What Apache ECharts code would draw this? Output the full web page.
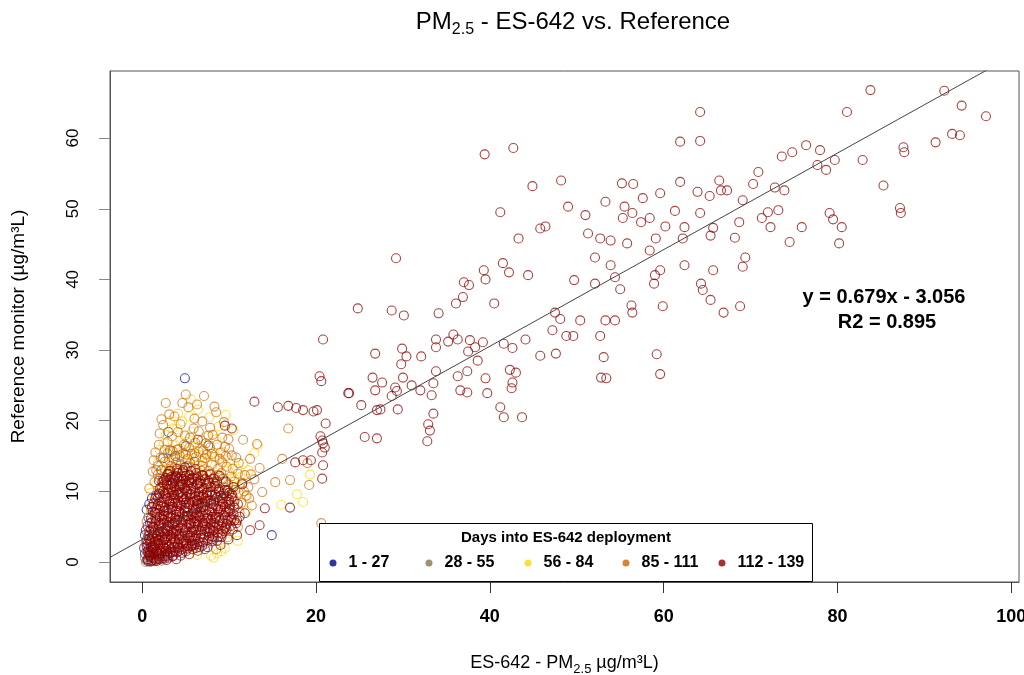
<!DOCTYPE html>
<html><head><meta charset="utf-8">
<script src="https://cdn.jsdelivr.net/npm/echarts@6/dist/echarts.min.js"></script>
<style>html,body{margin:0;padding:0;background:#fff}#c{width:1024px;height:675px}</style>
</head><body><div id="c"></div>
<script>
// ---- data ----
const groupNames = ['1 - 27', '28 - 55', '56 - 84', '85 - 111', '112 - 139'];
const xTicks = [0, 20, 40, 60, 80, 100];
const yTicks = [0, 10, 20, 30, 40, 50, 60];
const fitSlope = 0.6835;     // drawn line as measured
const fitIntercept = 3.2;
const eqText = 'y = 0.679x - 3.056';
const r2Text = 'R2 = 0.895';

const days1_27 = [[4.9,26.0],[14.9,3.8],[21.6,4.6],[3.0,18.4],[3.2,15.8],[6.4,17.3],[2.4,14.7],[0.9,5.5],[0.5,3.1],[5.8,2.4],[6.6,2.1],[4.3,1.6],[0.3,1.2],[0.6,0.3],[1.0,0.1],[1.4,7.0],[0.8,8.2],[1.9,11.5],[2.2,13.0],[3.8,15.0],[5.0,16.4],[0.4,4.5],[0.7,6.3],[2.6,0.5],[3.5,0.9],[7.2,1.8],[8.0,3.2],[9.3,11.8],[6.0,14.2],[4.4,13.7],[1.6,9.4],[1.2,2.3],[2.0,0.4],[7.6,16.5],[3.4,12.1],[0.2,2.0],[0.5,7.4],[1.1,9.0],[0.3,3.8]];

const days28_55 = [[0.5,0.2],[0.8,0.7],[1.2,0.3],[0.3,0.6],[1.7,0.8],[2.2,0.2],[0.6,1.5],[1.0,2.5],[2.9,1.4],[3.6,2.2],[1.5,4.0],[2.5,5.5],[4.2,3.8],[5.5,5.2],[3.3,7.8],[6.8,6.0],[2.0,9.1],[7.4,9.9],[4.8,10.5],[9.5,10.5],[8.4,8.9],[5.2,13.6],[3.0,12.8],[1.1,1.0],[0.4,0.0],[1.8,1.8],[1.4,0.1],[0.9,0.0],[2.6,1.1]];

const days56_84 = [[3.2,19.9],[4.6,19.9],[6.4,21.6],[7.7,20.5],[9.6,20.8],[12.9,15.4],[18.5,8.5],[8.6,1.2],[5.7,18.4],[7.4,17.8],[4.0,18.8],[19.3,12.4],[2.5,16.8],[3.0,15.2],[3.8,16.5],[4.4,17.2],[5.2,15.6],[6.0,16.3],[6.8,15.0],[7.5,14.2],[8.2,15.5],[9.0,13.7],[9.8,12.9],[10.6,11.8],[11.2,10.6],[11.8,9.2],[2.2,12.5],[2.8,13.8],[3.6,12.9],[4.9,14.3],[5.8,13.0],[6.6,12.6],[7.2,11.2],[8.8,10.8],[1.6,11.0],[1.3,8.6],[0.9,6.8],[2.4,10.4],[10.2,9.6],[9.5,2.0],[7.9,0.9],[6.3,1.0],[13.3,16.5],[16.0,8.1],[17.8,9.6],[12.0,7.2],[4.1,21.0],[5.4,20.6],[8.8,19.2],[10.5,18.7],[11.6,13.9],[0.6,4.0],[1.0,9.8],[3.1,10.0],[5.0,11.9],[7.0,9.2],[8.6,6.4],[10.0,4.0],[11.0,3.0],[5.6,23.0],
[2.0,15.9],[2.7,18.0],[3.5,18.9],[4.3,14.6],[5.1,17.0],[5.9,14.7],[6.7,16.4],[7.9,14.8],[8.5,17.4],[9.3,15.6],[10.1,14.4],[10.9,13.2],[1.8,14.0],[2.5,13.2],[3.3,16.0],[4.7,12.9],[6.3,13.8],[7.1,13.1],[8.0,12.5],[9.4,11.9],[10.4,10.9],[11.3,12.0],[12.2,13.0],[9.1,1.5],[8.2,0.6]];

const days85_111 = [[2.7,22.5],[5.0,23.7],[7.1,23.5],[5.3,21.9],[16.8,18.9],[13.2,16.7],[19.2,10.9],[20.6,5.5],[12.0,9.4],[12.6,8.0],[4.6,22.5],[6.0,20.3],[7.8,19.0],[8.5,21.2],[9.2,17.6],[10.0,16.0],[3.7,20.6],[2.0,18.2],[1.5,15.5],[2.9,17.0],[4.2,16.0],[5.5,17.6],[6.5,18.5],[7.3,16.8],[8.0,13.8],[8.9,14.6],[9.6,15.0],[10.4,13.2],[11.0,12.5],[11.5,11.2],[12.2,10.6],[10.8,14.8],[1.2,12.8],[1.8,13.6],[2.6,14.2],[3.3,13.6],[4.0,12.6],[4.7,15.4],[5.5,14.0],[6.2,14.9],[6.9,13.6],[7.6,12.9],[8.3,12.0],[9.1,12.6],[9.9,11.0],[10.7,10.2],[11.4,8.4],[0.8,10.4],[1.4,11.3],[2.0,11.8],[2.8,11.0],[3.6,10.2],[4.5,11.0],[5.3,10.8],[6.0,11.4],[6.7,10.6],[7.4,10.8],[8.2,11.3],[9.0,9.9],[9.7,8.6],[10.5,8.0],[11.2,7.0],[1.0,7.6],[1.7,7.4],[2.5,8.4],[3.4,8.8],[4.2,9.8],[5.0,9.3],[5.9,9.0],[6.8,8.2],[7.7,8.8],[8.7,8.6],[9.4,7.2],[10.3,6.2],[11.0,5.0],[0.5,5.8],[1.5,5.4],[2.7,6.2],[3.9,5.6],[5.2,6.3],[6.4,5.0],[7.6,5.6],[8.9,4.6],[9.8,3.5],[0.4,2.7],[1.3,3.4],[2.4,2.4],[3.6,3.6],[4.8,2.2],[6.1,3.0],[7.3,2.6],[8.5,1.8],[13.5,13.3],[12.5,12.4],[15.3,11.3],[17.0,11.6],[19.0,14.0],[16.1,14.6],[11.6,17.3],[13.8,9.9],[9.4,19.8],
[2.1,14.8],[2.6,15.9],[3.1,14.4],[3.5,15.7],[3.9,14.1],[4.3,15.1],[4.8,16.6],[5.2,14.6],[5.7,15.3],[6.1,16.9],[6.5,15.6],[6.9,14.3],[7.4,15.2],[7.8,16.2],[8.3,14.9],[8.7,13.2],[9.2,14.1],[9.7,13.5],[10.2,12.1],[10.6,11.4],[11.1,9.8],[11.7,10.0],[12.3,9.0],[1.6,13.0],[3.4,17.8],[4.1,18.4],[4.9,17.9],[5.9,18.9],[6.8,17.2],[7.6,17.9],[8.6,16.6],[9.5,16.3],[10.3,15.1],[11.1,14.0],[11.8,12.3],[2.4,19.4],[3.1,20.9],[4.4,19.5],[6.9,19.9],[8.1,18.0],[9.9,17.4],[12.4,14.6],[12.9,11.7],[1.3,14.4],[1.9,16.6],[2.2,20.2],[6.3,22.3],[8.3,22.0],
[1.8,12.4],[2.4,12.0],[3.1,12.9],[3.7,13.3],[4.3,13.0],[4.9,12.5],[5.6,13.4],[6.2,12.2],[6.8,12.9],[7.4,12.4],[8.0,11.7],[8.7,12.3],[9.3,11.3],[9.9,10.2],[10.4,9.3],[2.9,15.4],[4.0,15.9],[5.0,15.2],[6.0,15.4],[7.0,15.8],[8.0,15.3],[9.0,15.5],[3.6,14.7],[5.4,16.2],[7.2,14.7]];

const days112_139 = [
[0.6,0.4],[0.8,1.2],[1.0,0.6],[1.2,2.0],[0.9,2.8],[1.3,1.1],[1.1,3.5],[1.4,4.2],[0.7,1.8],[1.5,0.3],[1.2,5.0],[1.0,4.6],
[1.6,1.5],[1.8,2.6],[2.0,0.9],[2.1,3.8],[1.9,5.2],[2.3,6.1],[1.7,6.8],[2.4,2.2],[2.2,4.7],[2.0,7.5],[2.5,3.1],[1.8,8.2],[2.3,9.0],[2.1,1.6],[2.4,5.6],[1.6,3.3],[2.6,0.8],
[2.7,1.9],[2.9,3.6],[3.0,5.0],[3.2,6.4],[2.8,7.3],[3.1,8.6],[3.4,2.7],[3.3,4.4],[2.6,9.7],[3.0,10.8],[3.5,7.8],[3.2,1.3],[2.8,5.8],[3.4,9.4],[3.1,11.6],[3.5,5.3],[2.9,12.4],
[3.7,2.1],[3.9,3.9],[4.0,6.0],[4.2,7.2],[3.8,8.4],[4.1,9.6],[4.4,4.8],[4.3,10.7],[3.6,11.9],[4.0,1.4],[4.5,8.0],[4.2,3.2],[3.9,6.7],[4.4,11.4],[4.1,12.6],[3.7,5.5],
[4.7,2.6],[4.9,4.2],[5.0,5.9],[5.2,7.0],[4.8,8.9],[5.1,10.1],[5.4,3.4],[5.3,6.5],[4.6,11.0],[5.0,12.2],[5.5,9.1],[5.2,1.9],[4.9,7.7],[5.4,11.6],[5.1,4.9],[4.7,13.0],
[5.7,3.0],[5.9,4.6],[6.0,6.2],[6.2,7.6],[5.8,8.5],[6.1,9.8],[6.4,5.3],[6.3,10.9],[5.6,11.8],[6.0,2.4],[6.5,8.3],[6.2,3.8],[5.9,7.0],[6.4,12.0],
[6.7,3.4],[6.9,5.0],[7.0,6.6],[7.2,8.0],[6.8,9.2],[7.1,10.4],[7.4,4.3],[7.3,7.3],[6.6,11.2],[7.0,2.8],[7.5,9.4],[7.2,5.8],[6.9,12.3],
[7.7,3.6],[7.9,5.4],[8.0,7.0],[8.2,8.6],[7.8,9.9],[8.1,4.4],[8.4,6.1],[8.3,10.8],[7.6,11.5],[8.0,2.9],[8.5,7.9],[8.2,5.0],
[8.7,4.1],[8.9,5.9],[9.0,7.4],[9.2,9.0],[8.8,10.3],[9.1,3.5],[9.4,6.6],[9.3,8.2],[8.6,11.4],[9.5,4.8],
[9.7,5.4],[9.9,7.1],[10.0,8.8],[10.2,6.0],[9.8,10.1],[10.4,4.6],[10.6,7.7],[10.3,9.6],[10.8,5.5],
[0.9,0.9],[1.1,1.7],[1.4,2.9],[1.3,0.5],[1.7,0.4],[1.9,1.1],[2.2,2.8],[2.0,4.2],[1.8,3.9],[2.6,4.0],[2.7,2.8],[2.5,6.6],[2.4,7.9],[2.9,1.2],[3.3,3.3],[3.0,6.9],[3.6,4.0],[3.8,2.9],[3.5,9.9],[3.3,12.0],[4.0,4.4],[4.3,5.9],[4.6,6.8],[4.1,8.2],[4.6,9.6],[4.8,3.1],[5.1,2.6],[5.3,8.2],[5.6,6.0],[5.7,9.6],[5.5,4.2],[5.8,1.8],[6.1,5.5],[6.3,6.9],[6.6,4.5],[6.5,9.9],[6.8,7.7],[7.1,3.5],[7.3,9.0],[7.6,6.2],[7.7,4.8],[7.9,8.3],[8.1,6.4],[8.3,3.5],[8.6,9.2],[8.8,7.0],[9.1,5.0],[9.5,7.8],[9.7,9.3],[10.1,7.3],[2.2,10.6],[2.8,10.9],[3.7,10.6],[4.5,12.1],[5.6,12.9],[1.5,6.2],[1.2,7.1],[0.8,3.3],[0.5,2.2],[1.9,9.7],[2.5,11.6],[3.2,12.9],[4.0,13.2],[4.9,13.4],[6.1,13.2],[7.8,12.4],[8.9,12.2],[9.6,11.4],[10.5,10.6],[11.0,8.2],[11.2,6.4],[10.9,3.8],[9.9,3.2],[9.0,2.4],[7.5,2.1],[6.4,1.6],[5.4,1.1],[4.4,0.9],[3.5,0.8],[2.8,0.3],
[0.7,0.1],[1.1,0.2],[1.6,0.1],[2.3,0.5],[3.0,0.6],[3.8,1.6],[4.5,1.8],[0.8,0.9],[1.4,1.3],[2.0,1.9],[2.7,1.5],[3.3,1.8],[4.2,2.0],[5.0,1.5],[5.6,2.2],[6.2,2.0],[0.6,1.4],[1.9,0.5],
[0.6,2.6],[1.0,3.0],[1.5,2.4],[1.9,3.1],[2.3,3.5],[2.8,2.4],[3.2,3.8],[3.7,3.2],[4.1,2.5],[4.6,3.6],[5.0,2.9],[5.5,3.7],[6.0,3.3],[6.5,2.9],[7.0,3.9],[7.5,3.1],[8.1,3.6],[8.6,3.0],[5.3,2.2],[2.6,3.3],
[0.8,4.4],[1.3,4.9],[1.8,4.5],[2.2,5.3],[2.7,4.7],[3.1,5.6],[3.6,4.6],[4.1,5.2],[4.5,5.7],[5.0,4.5],[5.4,5.5],[5.9,5.0],[6.3,5.8],[6.8,4.4],[7.2,5.2],[7.8,4.6],[8.3,5.5],[8.8,5.1],[9.3,4.4],[9.8,5.9],[10.2,5.1],[3.5,4.2],
[1.0,6.2],[1.5,6.9],[2.0,6.4],[2.5,7.2],[2.9,6.5],[3.4,7.4],[3.8,6.3],[4.3,7.0],[4.8,6.4],[5.2,7.7],[5.7,6.8],[6.1,7.4],[6.6,6.3],[7.0,7.8],[7.5,6.7],[8.0,7.6],[8.5,6.4],[9.0,7.9],[9.5,6.3],[10.0,7.5],[10.5,6.8],[4.0,7.9],[6.4,7.9],
[1.3,8.3],[1.8,9.1],[2.2,8.5],[2.7,9.3],[3.2,8.2],[3.6,9.0],[4.1,8.7],[4.6,9.2],[5.0,8.4],[5.5,9.6],[6.0,8.6],[6.5,9.3],[6.9,8.4],[7.4,9.8],[7.9,8.7],[8.4,9.5],[8.9,8.6],[9.4,9.7],[9.9,8.5],[10.3,9.1],[3.0,9.8],[5.2,9.9],
[2.0,10.4],[2.5,11.0],[3.0,10.3],[3.5,11.2],[3.9,10.1],[4.4,10.9],[4.9,10.4],[5.4,11.3],[5.9,10.5],[6.4,11.1],[6.9,10.2],[7.4,11.0],[7.9,10.6],[8.4,11.1],[8.8,10.0],[2.7,11.9],[4.2,11.8],[5.8,11.9],
[3.0,12.5],[3.8,12.2],[4.6,12.7],[5.4,12.3],[6.2,12.6],[7.0,12.2],
[0.9,1.5],[1.3,1.8],[1.7,1.2],[2.2,1.3],[2.5,2.0],[3.1,2.2],[3.5,1.4],[4.0,2.2],[4.6,1.3],[5.1,2.3],[5.7,2.6],[6.3,2.5],[6.9,2.3],[1.0,2.1],[2.9,0.9],[3.9,0.4],
[0.7,3.7],[1.2,3.9],[1.7,3.6],[2.1,2.5],[2.4,4.3],[2.9,4.4],[3.4,3.6],[3.9,4.5],[4.3,3.9],[4.7,4.5],[5.2,3.8],[5.7,4.3],[6.2,4.5],[6.7,3.9],[7.2,4.6],[7.7,4.1],[8.2,4.5],[8.7,3.5],[9.2,4.0],[9.7,4.6],[5.9,3.5],[4.5,2.8],
[0.6,5.1],[1.1,5.6],[1.6,5.9],[2.0,5.5],[2.5,6.0],[2.9,5.2],[3.3,6.2],[3.8,5.8],[4.2,6.4],[4.6,5.2],[5.1,6.5],[5.6,5.4],[6.0,5.7],[6.5,6.5],[7.0,5.5],[7.4,6.2],[7.9,6.0],[8.4,5.0],[8.8,6.4],[9.2,5.6],[9.6,5.0],[10.1,6.4],[10.6,5.9],
[1.1,7.8],[1.6,7.6],[2.1,8.0],[2.6,7.7],[3.0,7.5],[3.5,8.4],[3.9,7.3],[4.4,8.1],[4.9,7.2],[5.4,8.5],[5.8,7.6],[6.3,8.2],[6.7,7.1],[7.2,8.6],[7.7,7.3],[8.2,8.1],[8.7,7.5],[9.2,8.5],[9.6,7.0],[10.1,8.1],[10.6,8.6],[6.2,6.6],[8.3,6.8],
[1.5,9.0],[2.0,9.6],[2.4,10.0],[2.9,9.0],[3.3,10.3],[3.7,9.5],[4.2,10.3],[4.7,8.6],[5.1,9.2],[5.6,10.3],[6.1,9.2],[6.6,10.4],[7.0,9.5],[7.5,8.6],[8.0,9.5],[8.5,10.4],[9.0,9.4],[9.5,10.2],[10.0,9.8],[4.4,9.9],[6.3,8.8],
[2.3,11.3],[2.8,11.5],[3.3,11.0],[3.8,11.6],[4.2,11.0],[4.7,11.7],[5.2,10.9],[5.7,11.2],[6.2,11.8],[6.7,11.5],[7.2,11.7],[7.7,11.2],[8.2,11.8],[4.0,12.0],[5.0,11.5],
[12.9,22.7],[9.5,19.3],[10.3,18.9],[20.4,26.3],[23.7,23.9],[20.7,17.2],[20.8,13.7],[20.7,11.8],[17.0,7.7],[11.8,6.9],[10.9,5.9],[13.5,5.2],[12.4,4.5],[14.1,7.6],[11.5,11.0],
[64.2,63.7],[83.8,66.8],[92.3,66.7],[81.1,63.7],[94.3,64.6],[97.1,63.1],[61.9,59.5],[42.7,58.6],[39.4,57.7],[64.2,59.6],[76.4,59.0],[74.8,58.0],[78.0,58.3],[91.3,59.4],[93.2,60.6],[94.1,60.4],[87.6,58.7],[87.7,58.0],[73.6,57.4],[77.7,56.2],[79.7,56.9],[82.9,56.9],[78.7,55.5],[48.2,54.0],[44.9,53.2],[85.3,53.3],[70.9,55.2],[70.3,53.5],[61.9,53.8],[66.4,54.0],[66.6,52.6],[72.8,53.0],[67.3,52.6],[73.9,52.6],[56.5,53.5],[55.2,53.6],[59.6,52.2],[63.9,52.4],[69.1,51.2],[65.3,51.8],[41.2,49.5],[53.3,51.0],[55.5,50.3],[57.6,51.5],[56.4,49.4],[49.0,50.3],[51.0,49.1],[55.3,48.7],[58.4,48.7],[61.3,49.7],[64.2,49.4],[72.0,49.5],[73.2,49.8],[71.3,48.7],[79.1,49.4],[79.5,48.5],[87.2,50.1],[87.3,49.4],[80.5,47.4],[75.9,47.4],[72.3,47.4],[68.7,48.1],[65.7,47.3],[62.4,47.4],[60.2,47.5],[57.4,48.1],[51.3,46.5],[52.7,45.8],[62.2,45.8],[65.4,46.2],[68.2,45.9],[59.1,45.8],[55.8,45.1],[58.4,44.1],[53.9,45.5],[46.4,47.5],[45.8,47.2],[43.3,45.8],[80.2,45.1],[74.5,45.3],[69.4,43.1],[52.1,43.1],[53.9,42.0],[62.4,42.0],[59.6,41.3],[65.7,41.3],[69.1,41.8],[54.4,40.3],[41.5,42.3],[39.3,41.3],[39.5,40.0],[42.2,41.0],[44.4,40.6],[29.2,43.0],[49.7,39.9],[52.1,39.4],[59.0,40.6],[58.9,39.4],[64.3,39.4],[64.5,38.5],[65.4,37.1],[68.8,36.2],[66.9,35.3],[55.0,38.6],[56.4,35.3],[56.3,36.3],[59.9,36.2],[37.6,39.2],[36.9,37.5],[40.5,36.6],[37.0,39.6],[36.1,36.6],[28.7,35.6],[30.1,34.9],[24.8,35.9],[34.1,35.2],[47.5,35.3],[48.1,34.4],[48.8,32.0],[49.6,32.0],[47.2,32.8],[53.3,34.2],[54.4,34.2],[52.7,32.0],[50.4,34.2],[42.6,30.3],[44.1,31.5],[41.6,30.9],[39.2,31.1],[38.3,30.4],[37.5,29.8],[37.7,31.4],[35.8,32.2],[36.3,31.5],[35.2,31.2],[33.8,31.5],[33.8,30.4],[32.1,29.1],[30.4,29.1],[29.8,28.0],[30.0,26.1],[26.5,26.1],[27.6,25.4],[29.1,24.7],[29.3,24.2],[31.0,25.0],[32.0,24.3],[33.8,27.0],[33.5,25.3],[33.3,23.6],[37.4,27.0],[36.3,26.3],[38.6,28.5],[36.6,24.3],[37.4,24.0],[39.5,26.0],[42.3,27.2],[42.6,25.4],[43.0,26.8],[42.5,24.6],[39.7,23.9],[41.2,21.9],[41.6,20.5],[43.7,20.5],[45.8,29.2],[47.6,29.5],[53.1,29.0],[53.4,26.0],[52.8,26.1],[59.6,26.6],[59.2,29.4],[29.9,30.2],[26.8,29.5],[26.8,24.3],[27.4,21.6],[27.0,21.5],[25.2,22.2],[25.6,17.7],[27.0,17.5],[29.4,21.6],[32.9,19.5],[33.1,18.6],[32.8,17.1],[28.7,23.5],[23.8,23.9],[20.6,25.6],[20.8,31.5],[21.1,19.6],[20.5,17.8],[20.8,16.8],[20.7,15.5],[21.0,16.2],[20.1,21.5],[19.7,21.3],[18.5,21.5],[16.8,22.1],[17.7,21.8],[15.6,21.9],[18.5,14.4],[19.4,14.4],[17.6,14.1],[33.5,21.0]
];

// ---- chart ----
const colors = ['#00008B', '#8B7355', '#FFD700', '#CD6600', '#8B0000'];
const groups = [days1_27, days28_55, days56_84, days85_111, days112_139];
const xMin = -3.72, xMax = 100.9, yMin = -2.83, yMax = 69.5;
const FONT = 'Liberation Sans, Arial, sans-serif';

function rgba(hex, a) {
  const n = parseInt(hex.slice(1), 16);
  return 'rgba(' + (n >> 16) + ',' + ((n >> 8) & 255) + ',' + (n & 255) + ',' + a + ')';
}

const scatterSeries = groups.map((g, i) => ({
  type: 'scatter', name: groupNames[i], data: g,
  symbol: 'circle', symbolSize: 9, large: false,
  itemStyle: { color: 'rgba(0,0,0,0)', borderColor: rgba(colors[i], i === 4 ? 0.92 : 0.85), borderWidth: 1.1 },
  emphasis: { disabled: true }, z: 2
}));

const fitLine = {
  type: 'line', name: 'fit', data: [[xMin, fitIntercept + fitSlope * xMin], [xMax, fitIntercept + fitSlope * xMax]],
  symbol: 'none', lineStyle: { color: '#444', width: 1 }, clip: true, z: 3, silent: true
};

const dotX = [333, 429, 528, 626, 722];
const legends = groupNames.map((n, i) => ({
  data: [{ name: n, icon: 'circle', itemStyle: { color: colors[i], borderWidth: 0 } }],
  left: dotX[i] - 3.5, top: 555, padding: 0, z: 6,
  itemWidth: 7, itemHeight: 7, selectedMode: false,
  textStyle: { fontFamily: FONT, fontSize: 16, fontWeight: 'bold', color: '#000', lineHeight: 16, padding: [0, 0, 0, 7] }
}));

const axisLineStyle = { color: '#555', width: 1 };

const chart = echarts.init(document.getElementById('c'), null, { renderer: 'canvas' });
chart.setOption({
  animation: false,
  backgroundColor: '#fff',
  title: {
    text: '{a|PM}{s|2.5}{a| - ES-642 vs. Reference}',
    left: 568, top: 5, textAlign: 'center',
    textStyle: { fontWeight: 'normal', rich: {
      a: { fontFamily: FONT, fontSize: 24, fontWeight: 'normal', color: '#000', lineHeight: 28, verticalAlign: 'top' },
      s: { fontFamily: FONT, fontSize: 16, fontWeight: 'normal', color: '#000', lineHeight: 28, padding: [12, 0, 0, 0], verticalAlign: 'top' }
    } }
  },
  legend: legends,
  grid: { left: 110, right: 5, top: 71, bottom: 93, outerBoundsMode: 'none', containLabel: false,
          show: true, borderColor: '#555', borderWidth: 1, backgroundColor: 'transparent' },
  xAxis: {
    type: 'value', min: xMin, max: xMax,
    axisLine: { show: true, onZero: false, lineStyle: axisLineStyle },
    splitLine: { show: false },
    axisTick: { show: true, inside: false, length: 11, lineStyle: { color: '#333' }, customValues: xTicks },
    axisLabel: { customValues: xTicks, margin: 26, fontFamily: FONT, fontSize: 18, fontWeight: 'bold', color: '#000' },
    name: '{a|ES-642 - PM}{s|2.5}{a| µg/m³L)}', nameLocation: 'middle', nameGap: 72,
    nameTextStyle: { rich: {
      a: { fontFamily: FONT, fontSize: 18, color: '#000', lineHeight: 22, verticalAlign: 'top' },
      s: { fontFamily: FONT, fontSize: 13, color: '#000', lineHeight: 22, padding: [9, 0, 0, 0], verticalAlign: 'top' }
    } }
  },
  yAxis: {
    type: 'value', min: yMin, max: yMax,
    axisLine: { show: true, onZero: false, lineStyle: axisLineStyle },
    splitLine: { show: false },
    axisTick: { show: true, inside: false, length: 11, lineStyle: { color: '#888' }, customValues: yTicks },
    axisLabel: { customValues: yTicks, rotate: 90, margin: 28, fontFamily: FONT, fontSize: 17, color: '#000' },
    name: 'Reference monitor (µg/m³L)', nameLocation: 'middle', nameGap: 82, nameRotate: 90,
    nameTextStyle: { fontFamily: FONT, fontSize: 19, color: '#000' }
  },
  graphic: [
    { type: 'rect', shape: { x: 319.5, y: 523.5, width: 493, height: 58 }, style: { fill: '#fff', stroke: '#000', lineWidth: 1 }, z: 4 },
    { type: 'text', x: 566, y: 538, style: { text: 'Days into ES-642 deployment', font: 'bold 15px ' + FONT, fill: '#000', textAlign: 'center', textVerticalAlign: 'middle' }, z: 6 },
    { type: 'text', x: 884, y: 297, style: { text: eqText, font: 'bold 20px ' + FONT, fill: '#000', textAlign: 'center', textVerticalAlign: 'middle' }, z: 6 },
    { type: 'text', x: 887, y: 322, style: { text: r2Text, font: 'bold 20px ' + FONT, fill: '#000', textAlign: 'center', textVerticalAlign: 'middle' }, z: 6 }
  ],
  series: scatterSeries.concat([fitLine])
});
</script>
</body></html>
